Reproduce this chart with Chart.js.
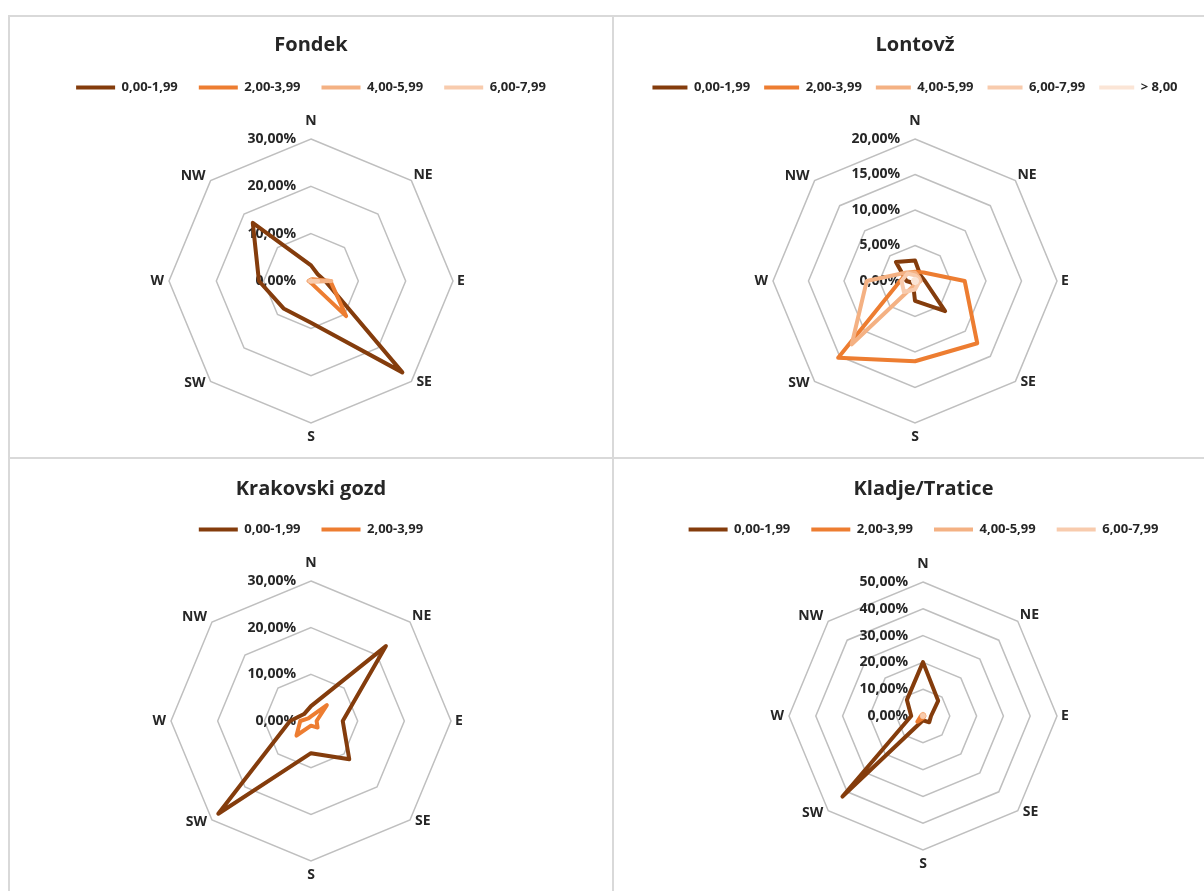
<!DOCTYPE html>
<html>
<head>
<meta charset="utf-8">
<script src="https://cdn.jsdelivr.net/npm/chart.js@4.4.1/dist/chart.umd.min.js"></script>
<style>
body{margin:0;background:#fff;overflow:hidden;width:1204px;height:891px;position:relative}
.frame{position:absolute;background:#d9d9d9}
.panel{position:absolute;width:602px;height:440px;background:#fff}
</style>
</head>
<body>
<div class="frame" style="left:8px;top:15px;width:1210px;height:2px"></div>
<div class="frame" style="left:8px;top:15px;width:2px;height:900px"></div>
<div class="frame" style="left:612px;top:15px;width:2px;height:900px"></div>
<div class="frame" style="left:8px;top:457px;width:1210px;height:2px"></div>
<div class="panel" style="left:10px;top:17px"><canvas id="c1" width="602" height="440"></canvas></div>
<div class="panel" style="left:614px;top:17px"><canvas id="c2" width="602" height="440"></canvas></div>
<div class="panel" style="left:10px;top:459px"><canvas id="c3" width="602" height="440"></canvas></div>
<div class="panel" style="left:614px;top:459px"><canvas id="c4" width="602" height="440"></canvas></div>
<script>
// directions and wind speed classes
const directions = ["N","NE","E","SE","S","SW","W","NW"];
const speedClasses = ["0,00-1,99","2,00-3,99","4,00-5,99","6,00-7,99","> 8,00"];
const classColors = ["#843C0C","#ED7D31","#F4B183","#F8CBAD","#FBE5D6"];

// percentages per direction (N..NW)
const fondek_0_2 = [3.3, 2.0, 3.0, 27.3, 8.8, 8.2, 11.0, 17.4];
const fondek_2_4 = [0.3, 0.5, 4.1, 10.5, 0.4, 0.3, 0.5, 0.3];
const fondek_4_6 = [0.2, 0.2, 4.3, 0.2, 0.2, 0.2, 0.5, 0.2];
const fondek_6_8 = [0.1, 0.1, 1.5, 0.1, 0.1, 0.1, 0.2, 0.1];

const lontovz_0_2 = [2.9, 1.1, 1.4, 6.0, 2.8, 0.4, 1.2, 3.8];
const lontovz_2_4 = [1.3, 1.7, 7.0, 12.4, 11.3, 15.3, 2.1, 1.6];
const lontovz_4_6 = [1.2, 0.8, 0.8, 0.5, 0.5, 12.6, 6.8, 1.7];
const lontovz_6_8 = [0.8, 0.6, 0.6, 0.6, 1.2, 2.2, 1.9, 1.5];
const lontovz_8 = [0.3, 0.3, 0.3, 0.3, 0.3, 0.3, 0.3, 0.3];

const krakovski_0_2 = [3.2, 22.7, 6.8, 11.6, 6.9, 28.1, 4.5, 2.1];
const krakovski_2_4 = [1.0, 4.8, 1.2, 2.0, 1.0, 4.4, 2.3, 0.8];

const kladje_0_2 = [20.1, 8.0, 3.0, 3.3, 1.6, 42.5, 4.4, 8.5];
const kladje_2_4 = [0.5, 0.5, 0.5, 0.5, 0.8, 3.0, 0.8, 0.5];
const kladje_4_6 = [0.8, 0.6, 0.5, 0.4, 0.4, 0.5, 0.5, 0.6];
const kladje_6_8 = [0.3, 0.3, 0.3, 0.3, 0.3, 0.3, 0.3, 0.3];

const FONT = '"Open Sans", sans-serif';
const TXT = '#262626';

function pct(v){ return v.toFixed(2).replace('.', ',') + '%'; }

// where each direction label sits relative to its outer vertex
const labelPlace = [
  ['center', 0, -18], ['left', 2, -6], ['left', 4, 0], ['left', 5, 1],
  ['center', 0, 14], ['right', -5, 2], ['right', -5, 0], ['right', -5, -5]
];

const axisText = {
  id: 'axisText',
  beforeDatasetsDraw(chart) {
    const s = chart.scales.r, ctx = chart.ctx;
    ctx.save();
    ctx.fillStyle = TXT;
    ctx.textBaseline = 'middle';
    ctx.font = 'bold 14px ' + FONT;
    ctx.textAlign = 'right';
    s.ticks.forEach(t => {
      ctx.fillText(pct(t.value), s.xCenter - 15, s.yCenter - s.getDistanceFromCenterForValue(t.value));
    });
    directions.forEach((d, i) => {
      const p = s.getPointPosition(i, s.drawingArea);
      const [al, dx, dy] = labelPlace[i];
      ctx.textAlign = al;
      ctx.fillText(d, p.x + dx, p.y + dy);
    });
    ctx.restore();
  }
};

const legendGap = {
  id: 'legendGap',
  beforeUpdate(chart, args, opts) {
    const lg = chart.legend;
    if (lg && !lg._gap) {
      const fit = lg.fit;
      lg.fit = function(){ fit.call(this); this.height += opts.extra; };
      lg._gap = true;
    }
  }
};

function makeChart(id, title, series, max, step, lay) {
  new Chart(document.getElementById(id), {
    type: 'radar',
    data: {
      labels: directions,
      datasets: series.map((d, i) => ({
        label: speedClasses[i], data: d,
        borderColor: classColors[i], backgroundColor: classColors[i],
        borderWidth: 4, pointRadius: 0, fill: false,
        borderJoinStyle: 'round', borderCapStyle: 'round', order: -i
      }))
    },
    options: {
      responsive: false, animation: false, events: [],
      layout: { padding: { left: lay.left || 0, right: 0, top: 0, bottom: lay.bottom } },
      plugins: {
        title: { display: true, text: title, color: TXT,
          font: { family: FONT, size: 20, weight: 'bold' },
          padding: { top: lay.tTop, bottom: lay.tBot } },
        legend: { position: 'top', labels: {
          usePointStyle: true, pointStyle: 'line', pointStyleWidth: lay.lw, padding: lay.lp,
          color: TXT, font: { family: FONT, size: 13, weight: 'bold' },
          sort: (a, b) => a.datasetIndex - b.datasetIndex } },
        tooltip: { enabled: false },
        legendGap: { extra: lay.extra }
      },
      scales: { r: {
        min: 0, max: max,
        ticks: { stepSize: step, display: false },
        angleLines: { display: false },
        grid: { color: '#bfbfbf', lineWidth: 1.5 },
        pointLabels: { display: false }
      } }
    },
    plugins: [axisText, legendGap]
  });
}

makeChart('c1', 'Fondek', [fondek_0_2, fondek_2_4, fondek_4_6, fondek_6_8], 30, 10,
  { tTop: 16, tBot: 3, lw: 39, lp: 21, extra: 35, bottom: 33 });
makeChart('c2', 'Lontovž', [lontovz_0_2, lontovz_2_4, lontovz_4_6, lontovz_6_8, lontovz_8], 20, 5,
  { tTop: 16, tBot: 10, lw: 35, lp: 14, extra: 35, bottom: 33 });
makeChart('c3', 'Krakovski gozd', [krakovski_0_2, krakovski_2_4], 30, 10,
  { tTop: 18, tBot: 1, lw: 39, lp: 21, extra: 35, bottom: 37 });
makeChart('c4', 'Kladje/Tratice', [kladje_0_2, kladje_2_4, kladje_4_6, kladje_6_8], 50, 10,
  { tTop: 18, tBot: 1, lw: 39, lp: 21, extra: 36, bottom: 49, left: 17 });
</script>
</body>
</html>
